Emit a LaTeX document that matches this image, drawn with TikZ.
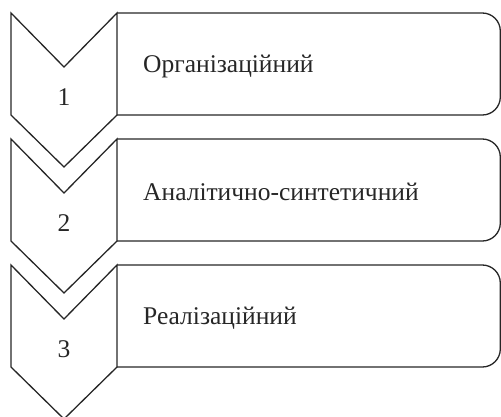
\documentclass[tikz,border=0pt]{standalone}
\usepackage{fontspec}
\setmainfont{Liberation Serif}
\begin{document}
\begin{tikzpicture}[x=1pt,y=-1pt,
  shapeline/.style={draw=black!85, line width=1.3pt, line join=miter},
  label/.style={font=\fontsize{25.5}{30}\selectfont, text=black!85, inner sep=0pt},
  numlabel/.style={font=\fontsize{25.5}{30}\selectfont, text=black!85, inner sep=0pt}]
\useasboundingbox (0,0) rectangle (501,416);
\foreach \T/\n/\txt in {13/1/Організаційний, 139/2/Аналітично-синтетичний, 265/3/Реалізаційний}{
  \draw[shapeline] (11,\T) -- (64,\T+54) -- (117,\T) -- (117,\T+102) -- (64,\T+154) -- (11,\T+102) -- cycle;
  \draw[shapeline, rounded corners=18pt] (117,\T) -- (500.3,\T) -- (500.3,\T+102) -- (117,\T+102);
  \node[label, anchor=west] (t\n) at (143,\T+53) {\txt};
  \node[numlabel] (n\n) at (64,\T+84) {\n};
}
\end{tikzpicture}
\end{document}
